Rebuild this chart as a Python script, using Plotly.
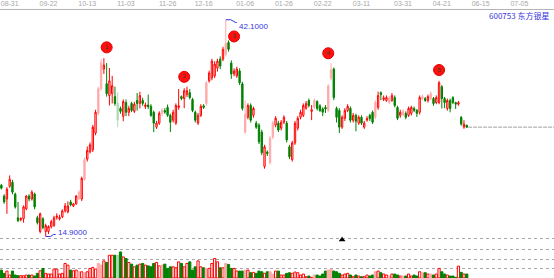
import plotly.graph_objects as go
import numpy as np

stock_name = "600753 东方银星"

open_ = [21.33, 19.97, 19.6, 21.2, 21.70, 20.22, 17.25, 17.0, 17.12, 18.36,
         19.97, 19.6, 20.22, 17.25, 15.52, 17.12, 15.52, 15.52, 16.14, 16.26,
         17.3, 17.1, 17.37, 18.11, 17.99, 19.23, 18.73, 18.98, 19.6, 19.6,
         22.07, 24.6, 25.53, 25.78, 27.88, 30.35, 33.44, 35.91, 34.06, 32.58,
         32.82, 32.45, 31.6, 30.97, 29.98, 31.71, 30.48, 31.59, 30.6, 31.96,
         31.59, 31.96, 31.2, 31.4, 31.22, 30.48, 28.62, 29.12, 30.35, 30.7,
         31.09, 30.1, 29.49, 29.12, 31.1, 32.45, 32.21, 32.7, 32.95, 32.08,
         30.48, 29.12, 30.10, 31.3, 31.59, 34.43, 34.80, 35.05, 36.04, 37.15,
         37.15, 37.77, 39.25, 36.66, 35.3, 35.05, 35.67, 34.06, 28.0, 29.86,
         31.34, 30.1, 29.12, 28.87, 28.0, 23.68, 25.5, 24.17, 27.38, 28.87,
         29.12, 28.5, 29.24, 29.12, 26.15, 24.54, 26.64, 28.5, 29.86, 30.1,
         31.0, 31.96, 30.6, 31.1, 31.84, 31.3, 30.9, 31.1, 30.72, 34.8,
         35.91, 30.97, 30.72, 28.62, 29.73, 30.72, 30.97, 29.49, 30.1, 29.12,
         29.86, 28.62, 29.5, 30.1, 30.48, 29.86, 31.09, 32.95, 32.1, 31.96,
         31.7, 31.96, 32.33, 31.09, 30.1, 30.2, 30.35, 30.10, 30.35, 30.97,
         30.72, 30.48, 32.2, 32.2, 31.96, 32.21, 32.21, 31.71, 31.71, 33.69,
         32.21, 30.97, 31.96, 32.33, 31.7, 31.5, 29.86, 28.62, 28.87]
high = [21.5, 20.2, 21.08, 22.56, 22.0, 20.4, 19.23, 17.3, 18.8, 20.1,
        20.2, 20.7, 20.4, 17.5, 17.9, 17.3, 16.5, 16.3, 17.0, 17.5,
        17.8, 17.6, 18.3, 19.1, 19.3, 19.5, 19.1, 20.1, 20.7, 22.4,
        24.8, 26.2, 26.7, 28.9, 30.8, 33.7, 37.15, 37.27, 36.66, 36.04,
        35.05, 33.7, 33.0, 31.2, 32.1, 32.1, 31.3, 31.8, 31.8, 32.9,
        33.07, 32.3, 31.7, 32.7, 31.5, 30.7, 29.4, 30.6, 31.0, 31.0,
        31.46, 30.3, 30.8, 31.6, 33.4, 32.6, 33.5, 33.7, 33.4, 32.3,
        30.7, 30.4, 31.5, 31.5, 34.4, 35.7, 37.2, 36.9, 37.2, 37.5,
        38.7, 42.10, 39.5, 37.0, 36.0, 36.2, 36.0, 34.3, 31.96, 31.6,
        31.6, 31.2, 29.4, 29.1, 28.3, 26.4, 25.7, 27.5, 29.4, 30.0,
        29.4, 29.5, 30.1, 29.4, 26.4, 26.9, 29.4, 30.0, 30.8, 31.6,
        31.9, 32.2, 31.4, 32.2, 32.0, 31.5, 31.1, 31.4, 34.0, 36.66,
        36.1, 31.2, 31.0, 30.1, 31.0, 31.5, 31.2, 30.4, 30.3, 30.1,
        30.1, 29.4, 30.0, 30.3, 30.7, 32.0, 33.07, 33.1, 32.6, 32.6,
        32.5, 32.9, 32.6, 31.3, 30.8, 30.9, 30.6, 31.2, 31.3, 31.2,
        30.9, 32.6, 32.7, 32.4, 32.7, 33.1, 32.4, 32.6, 34.43, 33.9,
        32.4, 32.2, 32.2, 32.5, 31.8, 31.9, 30.0, 29.49, 28.9]
low = [20.8, 19.0, 17.74, 21.0, 20.2, 18.4, 16.7, 16.8, 16.63, 18.2,
       19.3, 19.4, 18.3, 16.4, 15.3, 15.8, 14.9, 15.2, 15.9, 16.1,
       17.0, 16.9, 17.2, 17.9, 17.8, 18.7, 18.6, 18.9, 19.5, 19.35,
       21.9, 24.3, 25.3, 25.5, 27.6, 30.1, 33.2, 35.3, 32.45, 31.34,
       31.59, 31.3, 28.6, 30.3, 29.36, 30.0, 30.0, 30.5, 30.4, 30.7,
       30.97, 31.3, 30.9, 30.9, 29.9, 28.0, 28.4, 28.9, 30.0, 30.3,
       29.9, 28.0, 29.2, 28.9, 30.8, 32.0, 31.0, 32.4, 32.1, 30.5,
       29.2, 28.9, 29.9, 30.9, 31.3, 34.2, 34.5, 34.8, 35.6, 35.9,
       36.9, 37.5, 38.1, 34.68, 35.0, 34.8, 33.9, 30.7, 27.8, 29.6,
       29.2, 29.8, 28.4, 26.5, 25.1, 23.4, 25.0, 23.9, 27.1, 28.6,
       28.0, 28.2, 29.0, 26.7, 24.6, 24.3, 26.4, 28.2, 29.6, 29.9,
       30.8, 31.1, 29.5, 30.9, 30.7, 30.5, 30.0, 30.4, 30.5, 34.5,
       32.0, 29.2, 27.88, 28.4, 29.4, 30.5, 29.2, 29.2, 28.1, 28.9,
       28.9, 28.4, 29.3, 29.4, 29.0, 29.6, 30.8, 32.0, 31.9, 31.8,
       31.5, 31.8, 31.1, 29.5, 29.8, 30.0, 29.6, 29.9, 30.1, 30.5,
       29.9, 30.2, 32.0, 31.8, 31.7, 32.0, 31.3, 31.5, 31.5, 30.97,
       31.0, 30.7, 30.48, 31.5, 30.9, 31.3, 28.8, 28.4, 28.5]
close = [20.96, 19.23, 20.83, 22.07, 20.46, 18.61, 16.88, 17.15, 18.61, 19.97,
         19.6, 20.46, 18.61, 16.63, 17.74, 16.01, 16.26, 16.14, 16.75, 17.25,
         17.45, 17.3, 18.11, 18.73, 18.73, 18.86, 18.98, 19.97, 20.46, 22.19,
         24.54, 25.7, 26.40, 28.62, 30.48, 33.44, 36.66, 36.41, 32.82, 34.43,
         33.81, 31.59, 29.5, 30.6, 31.83, 30.48, 30.97, 30.72, 31.5, 31.59,
         32.58, 31.6, 31.4, 31.2, 30.10, 29.12, 29.12, 30.35, 30.72, 30.5,
         30.10, 29.24, 30.48, 31.34, 31.3, 32.21, 33.19, 33.2, 32.33, 30.72,
         29.49, 30.10, 31.22, 31.1, 34.18, 35.42, 36.90, 36.53, 36.9, 36.28,
         38.39, 39.13, 38.39, 35.30, 35.67, 35.91, 34.18, 30.97, 30.23, 31.34,
         29.49, 30.97, 28.62, 26.77, 25.41, 26.15, 25.3, 27.26, 29.12, 29.73,
         28.25, 29.24, 29.86, 27.01, 24.91, 26.64, 29.12, 29.73, 30.48, 31.34,
         31.59, 31.34, 30.8, 31.96, 30.97, 30.7, 30.5, 30.9, 33.81, 35.8,
         32.33, 29.86, 28.62, 29.86, 30.72, 31.22, 29.49, 30.10, 29.36, 29.86,
         29.12, 29.12, 29.7, 29.7, 29.24, 31.71, 32.58, 32.7, 32.3, 32.33,
         32.3, 32.58, 31.34, 29.73, 30.48, 30.6, 29.86, 30.97, 31.09, 30.72,
         30.35, 32.33, 32.45, 31.96, 32.45, 32.82, 31.59, 32.33, 34.18, 32.21,
         31.71, 31.96, 30.97, 31.71, 31.5, 31.7, 29.0, 28.99, 28.62]
volume = [8, 4.7, 7, 3, 7, 3, 2.3, 2.3, 2.3, 3, 3, 3, 2, 4.7, 7.3, 9.7, 4.7, 4, 4, 9,
          9, 4, 4.7, 14.7, 13, 8, 7.3, 8, 6.3, 6.3, 5.3, 6.3, 9.7, 10.7, 9, 14.7, 13, 17.3,
          15.7, 23, 23, 23, 23, 26.3, 21.3, 19.7, 15.7, 14, 11.3, 13, 14, 14.7, 13, 12.3,
          11.3, 14.7, 15.7, 12.3, 13, 14, 9.7, 11.3, 11.3, 10.3, 16.3, 14.7, 11.3, 14.7,
          16.3, 8, 11.3, 17.3, 11.3, 10.3, 9.7, 9.7, 14.7, 19.7, 16.3, 10.3, 10.3, 14.7,
          13.7, 9.7, 9.7, 7, 7, 7, 8, 8, 5.3, 5.7, 4.7, 7, 6.3, 4.7, 6.3, 6.3, 4, 7, 7,
          3, 3, 4.7, 5.3, 4.7, 6, 5.3, 3, 4, 1.3, 2, 0.7, 3, 3, 2, 4, 7, 8, 9, 7, 6.3,
          4.7, 3, 4, 4.7, 3, 1.3, 3, 2, 1.3, 1.3, 3, 2, 3, 6.3, 7, 5.3, 4, 3, 2, 4, 4,
          3, 2, 2, 2, 4, 2, 3, 2, 6.3, 5.3, 5.3, 4, 4, 3, 4, 9.7, 6.3, 4, 3, 2, 2, 0.7,
          12, 5.7, 4, 4]
faded_days = [28, 30, 35, 36, 42, 58, 74, 81, 88, 97, 98, 113, 118, 119, 135,
              140, 145, 152, 155]

tick_idx = [3, 17, 31, 45, 60, 73, 88, 102, 116, 130, 145, 159, 173, 187]
tick_labels = ["08-31", "09-22", "10-13", "11-03", "11-26", "12-16", "01-06",
               "01-26", "02-22", "03-11", "03-31", "04-21", "06-15", "07-05"]

signal_idx = [38, 66, 84, 118, 158]
signal_price = [38.63, 34.93, 40.0, 37.89, 35.79]
signal_label = ["1", "2", "3", "4", "5"]
marker_idx = [123]
marker_level = [38.6]

n = len(close)
xs = list(range(n))
vol = volume[:n] + [0] * max(0, n - len(volume))

RED = "#ff0000"
GREEN = "#008000"
PINK = "#ffaaaa"
LGREEN = "#b4d8b4"
BLUE = "#3434e0"

main = [i for i in xs if i not in faded_days]
fad = [i for i in xs if i in faded_days]

fig = go.Figure()

def sub(lst, idx):
    return [lst[i] for i in idx]

fig.add_trace(go.Candlestick(
    x=main, open=sub(open_, main), high=sub(high, main), low=sub(low, main), close=sub(close, main),
    increasing=dict(line=dict(color=RED, width=1), fillcolor="#ffffff"),
    decreasing=dict(line=dict(color=GREEN, width=1), fillcolor=GREEN),
    hoverinfo="skip", xaxis="x", yaxis="y"))
fig.add_trace(go.Candlestick(
    x=fad, open=sub(open_, fad), high=sub(high, fad), low=sub(low, fad), close=sub(close, fad),
    increasing=dict(line=dict(color=PINK, width=1), fillcolor=PINK),
    decreasing=dict(line=dict(color=LGREEN, width=1), fillcolor=LGREEN),
    hoverinfo="skip", xaxis="x", yaxis="y"))

# volume
vfill, vline = [], []
for i in xs:
    up = close[i] >= open_[i]
    if i in faded_days:
        c = PINK if up else LGREEN
        vfill.append(c); vline.append(c)
    elif up:
        vfill.append("#ffffff"); vline.append(RED)
    else:
        vfill.append(GREEN); vline.append(GREEN)
fig.add_trace(go.Bar(x=xs, y=vol, marker=dict(color=vfill, line=dict(color=vline, width=1)),
                     xaxis="x", yaxis="y2", hoverinfo="skip"))

# flat extension of last close
x_end = 199.5
fig.add_trace(go.Scatter(x=[n - 0.5, x_end], y=[close[-1], close[-1]], mode="lines",
                         line=dict(color="#a0a0a0", width=1, dash="4px,1px"),
                         xaxis="x", yaxis="y", hoverinfo="skip"))

# max / min brackets
imax = int(np.argmax(high))
imin = int(np.argmin(low))
hmax = high[imax]
lmin = low[imin]
fig.add_trace(go.Scatter(x=[imax, imax + 1.8, imax + 3.6, imax + 4.0],
                         y=[hmax, hmax, hmax - 0.35, hmax - 0.35], mode="lines",
                         line=dict(color=BLUE, width=1), xaxis="x", yaxis="y", hoverinfo="skip"))
fig.add_trace(go.Scatter(x=[imin, imin + 1.8, imin + 2.8, imin + 3.6],
                         y=[lmin, lmin, lmin + 0.25, lmin + 0.25], mode="lines",
                         line=dict(color=BLUE, width=1), xaxis="x", yaxis="y", hoverinfo="skip"))
fig.add_annotation(x=imax + 4.0, y=hmax - 0.8, xref="x", yref="y", text=f"{hmax:.4f}",
                   showarrow=False, xanchor="left", yanchor="middle",
                   font=dict(family="Liberation Sans", size=8, color=BLUE))
fig.add_annotation(x=imin + 3.6, y=lmin + 0.45, xref="x", yref="y", text=f"{lmin:.4f}",
                   showarrow=False, xanchor="left", yanchor="middle",
                   font=dict(family="Liberation Sans", size=8, color=BLUE))

# signal circles
fig.add_trace(go.Scatter(x=signal_idx, y=signal_price, mode="markers+text",
                         marker=dict(size=11, color="#ff1010", line=dict(color="#e00000", width=1)),
                         text=signal_label, textposition="middle center",
                         textfont=dict(size=6, color="#1a4a1a", family="Liberation Sans"),
                         xaxis="x", yaxis="y", hoverinfo="skip", cliponaxis=False))

# small black triangle
fig.add_trace(go.Scatter(x=marker_idx, y=marker_level, mode="markers",
                         marker=dict(symbol="triangle-up", size=6, color="#000000"),
                         xaxis="x", yaxis="y2", hoverinfo="skip", cliponaxis=False))

# stock name
fig.add_annotation(x=551 / 554, y=(278 - 12.5) / 278, xref="paper", yref="paper",
                   text=stock_name, showarrow=False, xanchor="right", yanchor="middle",
                   font=dict(family="Noto Sans CJK SC", size=8, color=BLUE))

fig.update_layout(
    width=554, height=278, margin=dict(l=0, r=0, t=0, b=0),
    paper_bgcolor="#ffffff", plot_bgcolor="#ffffff", showlegend=False,
    bargap=0.2,
    xaxis=dict(range=[-0.5, x_end], side="top", anchor="y", showline=True,
               linecolor="#b4b4b4", linewidth=1, tickmode="array", tickvals=tick_idx,
               ticktext=tick_labels, ticks="", tickfont=dict(size=7, color="#a8a8a8",
                                                             family="Liberation Sans"),
               showgrid=False, zeroline=False, rangeslider=dict(visible=False), fixedrange=True),
    yaxis=dict(domain=[41 / 278, 271 / 278], range=[14.9 - 1 / 8.09, 14.9 + 230 / 8.09],
               showticklabels=False, showgrid=False, zeroline=False, showline=False, ticks=""),
    yaxis2=dict(domain=[0, 41 / 278], range=[0, 41], anchor="x",
                tickmode="array", tickvals=[9.3, 18.5, 28.7, 39.7], showticklabels=False,
                showgrid=True, gridcolor="#a8a8a8", griddash="dot", gridwidth=1,
                zeroline=False, showline=False, ticks=""),
)

fig.write_html("out.html")
